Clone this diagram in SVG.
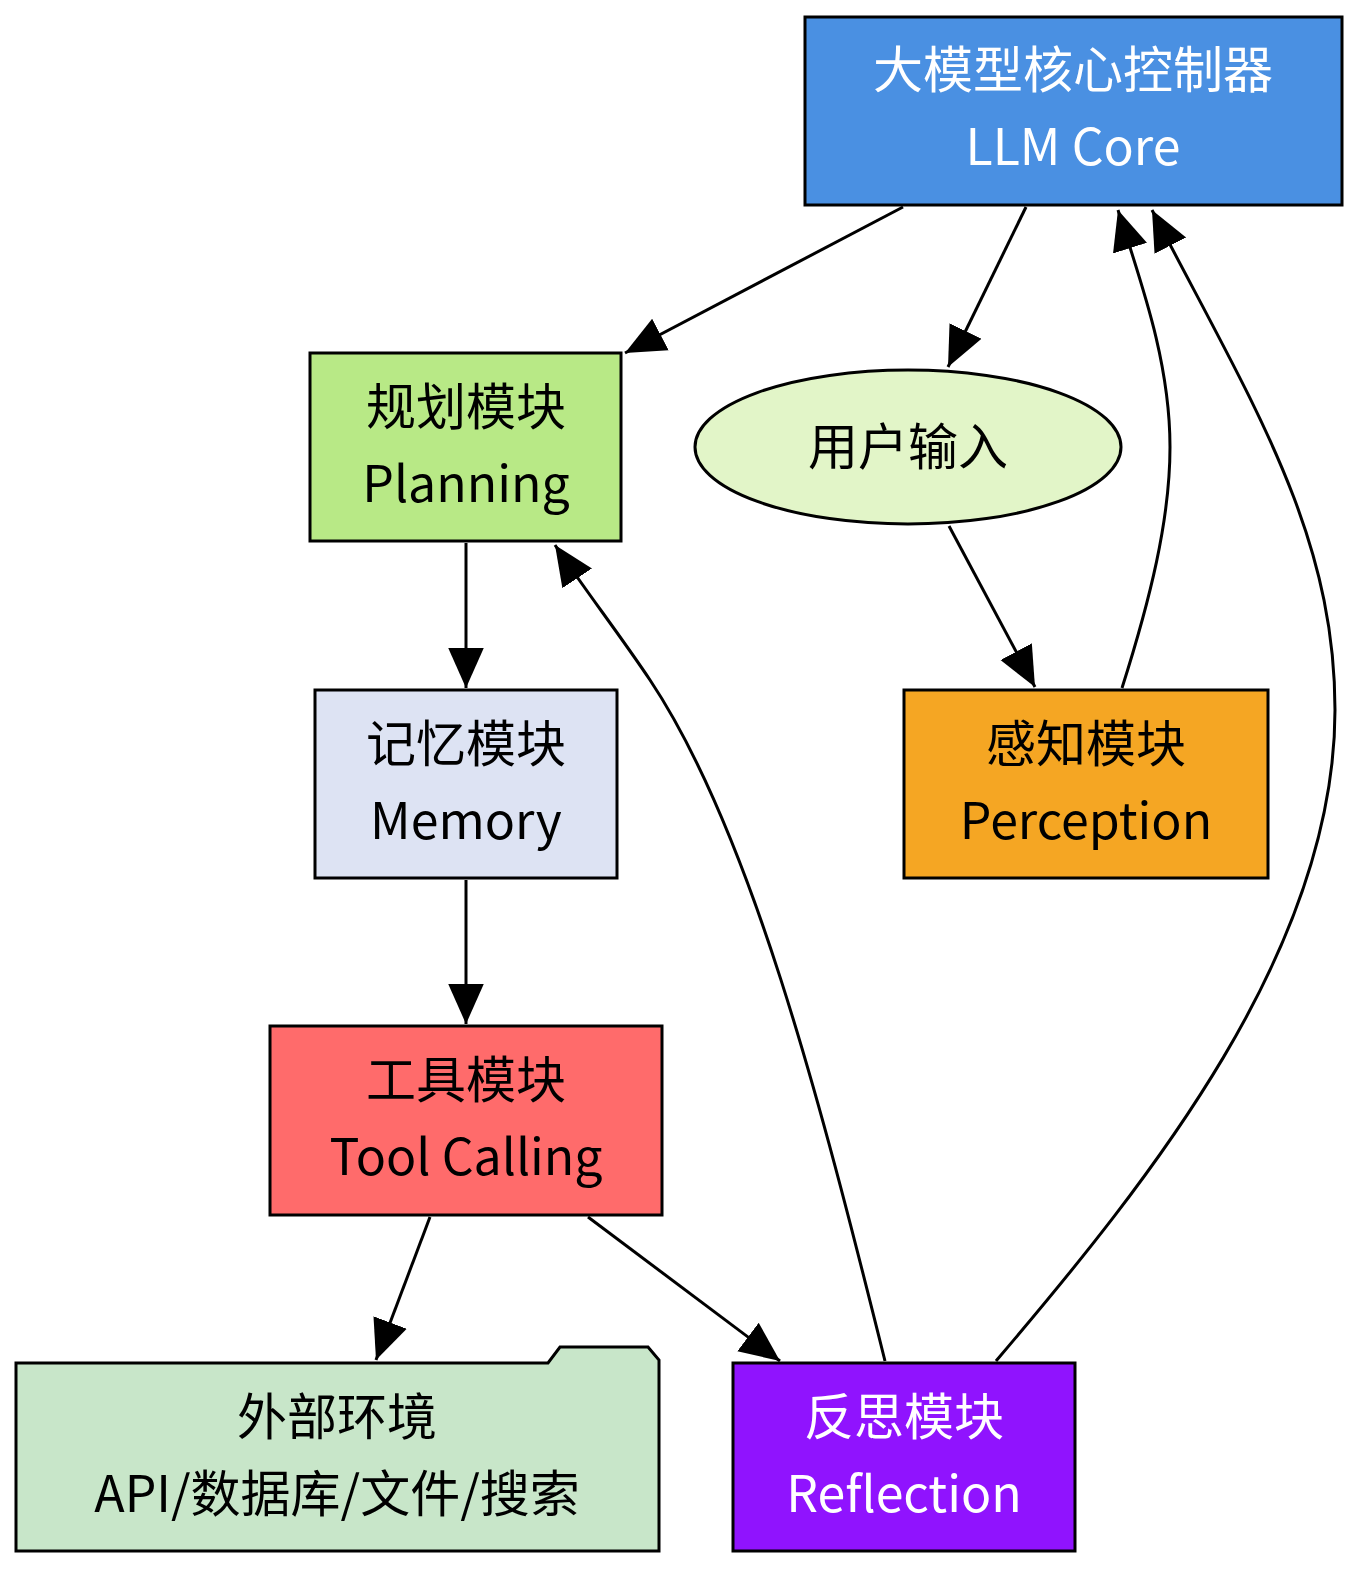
<svg xmlns="http://www.w3.org/2000/svg" width="1370" height="1581" viewBox="0 0 1370 1581">
<style>
.n{stroke:#000;stroke-width:3}
text{font-family:"Noto Sans CJK SC","Noto Sans",sans-serif;font-size:50px;text-anchor:middle;fill:#000}
.w{fill:#fff}
.e{fill:none;stroke:#000;stroke-width:3}
</style>
<defs>
<marker id="a" markerUnits="userSpaceOnUse" markerWidth="40" markerHeight="40" viewBox="0 0 36 32" refX="36" refY="16" orient="auto">
<path d="M0,0 L36,16 L0,32 Z" fill="#000"/>
</marker>
</defs>
<g id="connectors">
<path class="e" marker-end="url(#a)" d="M903,207 L625,353"/>
<path class="e" marker-end="url(#a)" d="M1026,207 L948,367"/>
<path class="e" marker-end="url(#a)" d="M949,526 L1035,687"/>
<path class="e" marker-end="url(#a)" d="M1122,688 C1150,600 1170,520 1170,447 C1170,360 1140,280 1118,210"/>
<path class="e" marker-end="url(#a)" d="M996,1361 C1150,1180 1335,950 1335,710 C1335,530 1250,400 1152,210"/>
<path class="e" marker-end="url(#a)" d="M466,543 L466,688"/>
<path class="e" marker-end="url(#a)" d="M466,880 L466,1024"/>
<path class="e" marker-end="url(#a)" d="M430,1217 L376,1360"/>
<path class="e" marker-end="url(#a)" d="M588,1217 L780,1361"/>
<path class="e" marker-end="url(#a)" d="M885,1361 C820,1100 750,830 650,680 C620,635 585,590 555,545"/>
</g>
<g id="llm"><rect class="n" x="805" y="17" width="537" height="188" fill="#4a90e2"/>
<text class="w" x="1073" y="88">大模型核心控制器</text><text class="w" x="1073" y="165">LLM Core</text></g>
<g id="planning"><rect class="n" x="310" y="353" width="311" height="188" fill="#b8e986"/>
<text x="466" y="425">规划模块</text><text x="466" y="502">Planning</text></g>
<g id="input"><ellipse class="n" cx="908" cy="447" rx="213" ry="77" fill="#e2f5c8"/>
<text x="908" y="465">用户输入</text></g>
<g id="memory"><rect class="n" x="315" y="690" width="302" height="188" fill="#dde3f3"/>
<text x="466" y="762">记忆模块</text><text x="466" y="839">Memory</text></g>
<g id="perception"><rect class="n" x="904" y="690" width="364" height="188" fill="#f5a623"/>
<text x="1086" y="762">感知模块</text><text x="1086" y="839">Perception</text></g>
<g id="tool"><rect class="n" x="270" y="1026" width="392" height="189" fill="#ff6b6b"/>
<text x="466" y="1098">工具模块</text><text x="466" y="1175">Tool Calling</text></g>
<g id="env"><path class="n" d="M16,1363 L548,1363 L560,1347 L648,1347 L659,1360 L659,1551 L16,1551 Z" fill="#c8e6c9"/>
<text x="337" y="1435">外部环境</text><text x="337" y="1512">API/数据库/文件/搜索</text></g>
<g id="reflection"><rect class="n" x="733" y="1363" width="342" height="188" fill="#9013fe"/>
<text class="w" x="904" y="1435">反思模块</text><text class="w" x="904" y="1512">Reflection</text></g>
</svg>
